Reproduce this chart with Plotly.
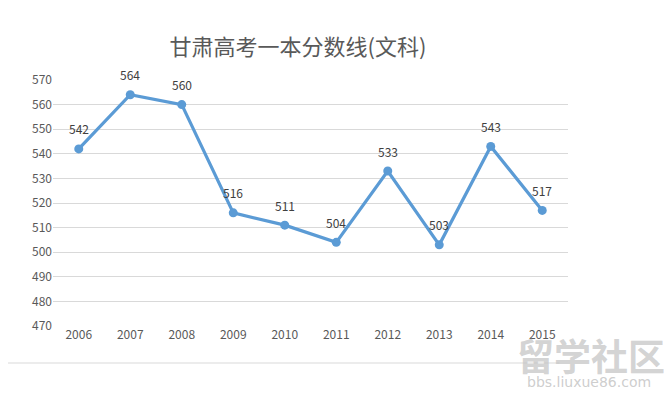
import plotly.graph_objects as go

years = ["2006", "2007", "2008", "2009", "2010", "2011", "2012", "2013", "2014", "2015"]
scores = [542, 564, 560, 516, 511, 504, 533, 503, 543, 517]
y_ticks = [470, 480, 490, 500, 510, 520, 530, 540, 550, 560, 570]

# page is rendered with an 8px body margin; positions below compensate
W, H = 672, 397
L, T, PW, PH = 45, 72, 515.5, 246
R = W - L - PW
B = H - T - PH

fig = go.Figure()
fig.add_trace(go.Scatter(
    x=years, y=scores, mode="lines+markers",
    line=dict(color="#5B9BD5", width=3.2),
    marker=dict(color="#5B9BD5", size=9),
    cliponaxis=False,
))

for i, v in enumerate(scores):
    fig.add_annotation(x=i, y=v, xref="x", yref="y", text=str(v), showarrow=False, yshift=20,
                       xanchor="center", yanchor="middle",
                       font=dict(family="Noto Sans CJK SC, sans-serif", size=12, color="#404040"))

fig.update_layout(
    width=W, height=H,
    margin=dict(l=L, r=R, t=T, b=B),
    paper_bgcolor="white", plot_bgcolor="white",
    showlegend=False,
    title=dict(text="甘肃高考一本分数线(文科)", x=290/W, xanchor="center",
               y=1 - 39/H, yanchor="middle",
               font=dict(family="Noto Sans CJK SC, sans-serif", size=22, color="#595959")),
    xaxis=dict(type="category", categoryorder="array", categoryarray=years,
               range=[-0.5, len(years) - 0.5],
               showgrid=False, showline=False, zeroline=False,
               ticks="", tickfont=dict(family="Noto Sans CJK SC, sans-serif", size=12, color="#595959")),
    yaxis=dict(range=[470, 570], tickvals=y_ticks, showgrid=True, gridcolor="#D9D9D9",
               gridwidth=1, zeroline=False, showline=False, ticks="",
               tickfont=dict(family="Noto Sans CJK SC, sans-serif", size=12, color="#595959")),
)

yb = -(355 - (T + PH)) / PH
fig.add_shape(type="line", xref="paper", yref="paper",
              x0=-L / PW, x1=(552 - L) / PW, y0=yb, y1=yb,
              line=dict(color="#D9D9D9", width=1))

fig.add_annotation(text="<b>留学社区</b>", xref="paper", yref="paper",
                   x=(584 - L) / PW, y=-(347 - (T + PH)) / PH, xanchor="center", yanchor="middle",
                   showarrow=False,
                   font=dict(family="Noto Sans CJK SC, sans-serif", size=37, color="rgba(200,200,200,0.8)"))
fig.add_annotation(text="bbs.liuxue86.com", xref="paper", yref="paper",
                   x=(582 - L) / PW, y=-(374 - (T + PH)) / PH, xanchor="center", yanchor="middle",
                   showarrow=False,
                   font=dict(family="DejaVu Sans, sans-serif", size=14, color="rgba(200,200,200,0.9)"))

fig.write_html("out.html")
